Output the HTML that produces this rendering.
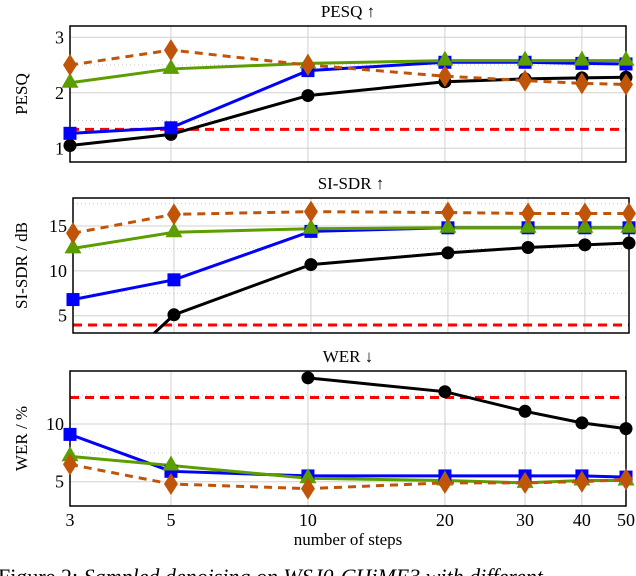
<!DOCTYPE html>
<html><head><meta charset="utf-8"><style>
body{margin:0;background:#fff;width:636px;height:576px;overflow:hidden}
svg{display:block;font-family:"Liberation Serif",serif}
</style></head><body>
<svg id="c" width="636" height="576"></svg>
<script>
const steps=[3,5,10,20,30,40,50];
const pesqBlack=[1.05,1.25,1.95,2.2,2.25,2.27,2.28];
const pesqBlue=[1.27,1.37,2.4,2.55,2.55,2.53,2.52];
const pesqGreen=[2.18,2.43,2.53,2.58,2.58,2.58,2.58];
const pesqOrange=[2.5,2.77,2.5,2.3,2.22,2.17,2.15];
const pesqRed=1.34;
const sdrBlack=[-5.4,5.1,10.7,12.0,12.6,12.9,13.1];
const sdrBlue=[6.8,9.0,14.4,14.8,14.8,14.8,14.8];
const sdrGreen=[12.5,14.3,14.7,14.8,14.8,14.8,14.8];
const sdrOrange=[14.2,16.3,16.6,16.5,16.4,16.4,16.4];
const sdrRed=3.96;
const werBlack=[null,null,14.0,12.8,11.1,10.1,9.6];
const werBlue=[9.1,5.9,5.5,5.5,5.5,5.5,5.4];
const werGreen=[7.2,6.4,5.3,5.1,4.9,5.1,5.1];
const werOrange=[6.5,4.8,4.4,4.9,4.9,5.0,5.2];
const werRed=12.3;
const pesqTicks=[1,2,3], sdrTicks=[5,10,15], werTicks=[5,10];

const NS='http://www.w3.org/2000/svg';
const svg=document.getElementById('c');
function mk(t,a,p){const e=document.createElementNS(NS,t);for(const k in a)e.setAttribute(k,a[k]);(p||svg).appendChild(e);return e;}

const panels=[
 {name:'pesq',title:'PESQ ↑',ylab:'PESQ',top:26,bot:162,left:70,right:626,v0:1,p0:148.3,v1:3,p1:37.3,ticks:pesqTicks,minor:[1.5,2.5],
  s:[pesqBlack,pesqBlue,pesqGreen,pesqOrange],red:pesqRed},
 {name:'sisdr',title:'SI-SDR ↑',ylab:'SI-SDR / dB',top:198,bot:333,left:73,right:629,v0:5,p0:315.7,v1:15,p1:226,ticks:sdrTicks,minor:[7.5,12.5,17.5],
  s:[sdrBlack,sdrBlue,sdrGreen,sdrOrange],red:sdrRed},
 {name:'wer',title:'WER ↓',ylab:'WER / %',top:371,bot:506,left:70,right:626,v0:5,p0:481.7,v1:10,p1:424,ticks:werTicks,minor:[7.5,12.5],
  s:[werBlack,werBlue,werGreen,werOrange],red:werRed}
];
const styles=[
 {c:'#000',w:3,dash:null,m:'circle'},
 {c:'#0000ff',w:3,dash:null,m:'square'},
 {c:'#5c9d00',w:3,dash:null,m:'tri'},
 {c:'#c0550a',w:3,dash:'8,6',m:'diamond'}];
const sname=['baseline-a','baseline-b','method-c','method-d'];

panels.forEach((P,pi)=>{
 const g=mk('g',{});
 
 
 const X=v=>P.left+(Math.log10(v)-Math.log10(3))/(Math.log10(50)-Math.log10(3))*(P.right-P.left);
 const Y=v=>P.p0+(v-P.v0)/(P.v1-P.v0)*(P.p1-P.p0);
 const clipId='clip'+pi;
 const cp=mk('clipPath',{id:clipId},g);
 mk('rect',{x:P.left,y:P.top,width:P.right-P.left,height:P.bot-P.top},cp);
 steps.forEach(s=>{const l=mk('line',{x1:X(s),x2:X(s),y1:P.top,y2:P.bot,stroke:'#d0d0d0','stroke-width':1},g);
  });
 P.ticks.forEach(t=>{const l=mk('line',{x1:P.left,x2:P.right,y1:Y(t),y2:Y(t),stroke:'#d0d0d0','stroke-width':1},g);
  
  const tx=mk('text',{x:P.left-6,y:Y(t)+6,'text-anchor':'end','font-size':18},g);tx.textContent=t;
  });
 P.minor.forEach(t=>{const y=Y(t);if(y<P.top||y>P.bot)return;const l=mk('line',{x1:P.left,x2:P.right,y1:y,y2:y,stroke:'#c8c8c8','stroke-width':1,'stroke-dasharray':'1,3'},g);
  });
 const dg=mk('g',{'clip-path':'url(#'+clipId+')'},g);
 const mg=mk('g',{},g);
 const r=mk('line',{x1:P.left,x2:P.right,y1:Y(P.red),y2:Y(P.red),stroke:'#ff0000','stroke-width':3,'stroke-dasharray':'9,6'},dg);
 
 P.s.forEach((arr,si)=>{
  const st=styles[si];
  let d='';let pen=false;
  arr.forEach((v,i)=>{if(v==null){pen=false;return;}d+=(pen?'L':'M')+X(steps[i])+','+Y(v);pen=true;});
  const pa=mk('path',{d:d,fill:'none',stroke:st.c,'stroke-width':st.w,'stroke-dasharray':st.dash||'none'},dg);
  
  arr.forEach((v,i)=>{if(v==null)return;const x=X(steps[i]),y=Y(v);if(y>P.bot+2||y<P.top-2)return;let m;
   if(st.m=='circle')m=mk('circle',{cx:x,cy:y,r:6.5,fill:st.c},mg);
   else if(st.m=='square')m=mk('rect',{x:x-6.5,y:y-6.5,width:13,height:13,fill:st.c},mg);
   else if(st.m=='tri')m=mk('polygon',{points:`${x},${y-10} ${x-8.5},${y+5} ${x+8.5},${y+5}`,fill:st.c},mg);
   else m=mk('polygon',{points:`${x},${y-11} ${x-7},${y} ${x},${y+11} ${x+7},${y}`,fill:st.c},mg);
   });
 });
 const f=mk('rect',{x:P.left,y:P.top,width:P.right-P.left,height:P.bot-P.top,fill:'none',stroke:'#000','stroke-width':1.5},g);
 
 g.insertBefore(f,mg);
 const t=mk('text',{x:(P.left+P.right)/2,y:P.top-9,'text-anchor':'middle','font-size':17},g);t.textContent=P.title;
 
 const yl=mk('text',{x:0,y:0,'text-anchor':'middle','font-size':17,transform:`translate(27,${(P.top+P.bot)/2}) rotate(-90)`},g);yl.textContent=P.ylab;
 
 if(pi==2){steps.forEach(s=>{const tx=mk('text',{x:X(s),y:526,'text-anchor':'middle','font-size':18},g);tx.textContent=s;
  });}
});
const xl=mk('text',{x:348,y:545,'text-anchor':'middle','font-size':17});xl.textContent='number of steps';

const cap=mk('text',{x:-2,y:584,'font-size':22});cap.innerHTML='Figure 2: <tspan font-style="italic">Sampled denoising on WSJ0-CHiME3 with different</tspan>';

</script>
</body></html>
